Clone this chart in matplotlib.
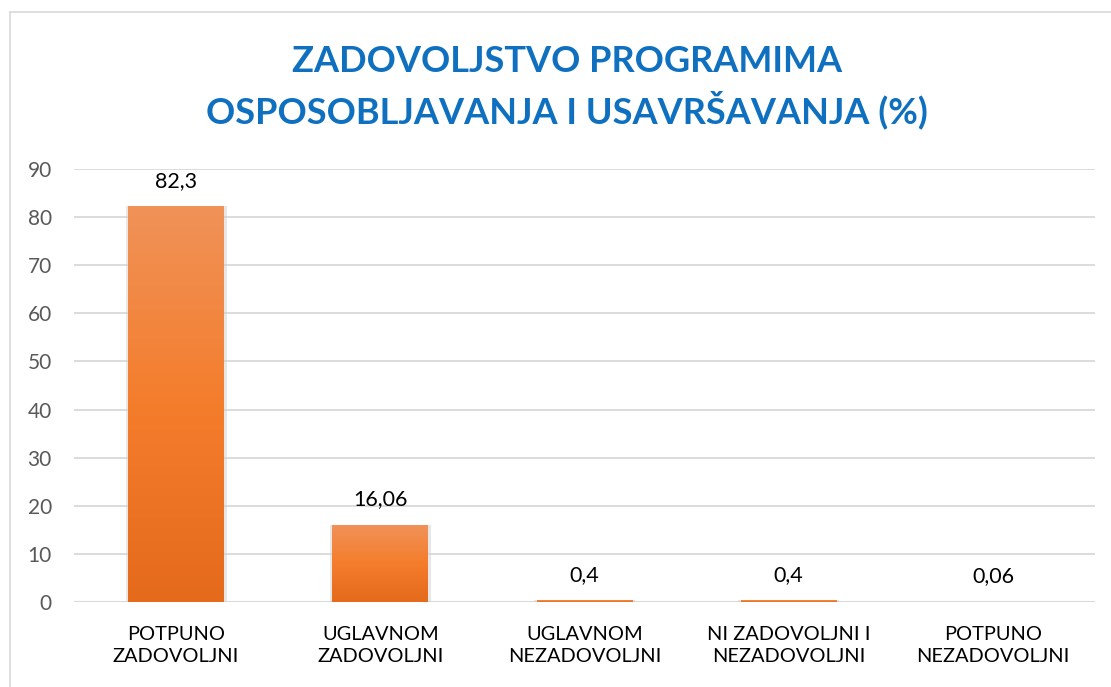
import numpy as np
import matplotlib.pyplot as plt
from matplotlib.colors import LinearSegmentedColormap
from matplotlib.lines import Line2D

categories = ["POTPUNO\nZADOVOLJNI", "UGLAVNOM\nZADOVOLJNI", "UGLAVNOM\nNEZADOVOLJNI",
              "NI ZADOVOLJNI I\nNEZADOVOLJNI", "POTPUNO\nNEZADOVOLJNI"]
values = [82.3, 16.06, 0.4, 0.4, 0.06]
value_labels = ["82,3", "16,06", "0,4", "0,4", "0,06"]
yticks = [0, 10, 20, 30, 40, 50, 60, 70, 80, 90]

plt.rcParams['font.family'] = ['Lato', 'DejaVu Sans']

fig = plt.figure(figsize=(11.11, 6.87), dpi=100)
ax = fig.add_axes([74 / 1111, 85 / 687, 1021 / 1111, 433 / 687])

# light gray frame around chart (only left/top visible in reference)
fig.add_artist(Line2D([10 / 1111, 10 / 1111], [0, 1 - 12 / 687], transform=fig.transFigure,
                      color='#d9d9d9', lw=1.2))
fig.add_artist(Line2D([10 / 1111, 1], [1 - 12 / 687, 1 - 12 / 687], transform=fig.transFigure,
                      color='#d9d9d9', lw=1.2))

cmap = LinearSegmentedColormap.from_list("og", ["#e56a1c", "#f47d2c", "#f09259"])
grad = np.linspace(0, 1, 256).reshape(-1, 1)

x = np.arange(len(categories))
w = 0.47
bars = ax.bar(x, values, width=w, color='#f47d2c', zorder=3, edgecolor='none')
for b, v in zip(bars, values):
    x0 = b.get_x()
    # soft shadow
    ax.bar(b.get_x() + w / 2, v, width=w + 0.025, color='#d0d0d0', alpha=0.5, zorder=2, edgecolor='none')
    im = ax.imshow(grad, extent=[x0, x0 + w, 0, v], origin='lower', cmap=cmap,
                   aspect='auto', zorder=3, interpolation='bicubic')
    im.set_clip_path(b)

for xi, v, lab in zip(x, values, value_labels):
    ax.text(xi, v + 3.2, lab, ha='center', va='bottom', fontsize=15.5, color='#000000')

ax.set_xlim(-0.5, len(categories) - 0.5)
ax.set_ylim(0, 90)
ax.set_yticks(yticks)
ax.set_xticks(x)
ax.set_xticklabels(categories, fontsize=14.4, color='#000000', linespacing=1.42)
ax.tick_params(axis='y', labelsize=15, labelcolor='#595959', length=0, pad=16)
ax.tick_params(axis='x', length=0, pad=17)
ax.grid(axis='y', color='#d9d9d9', lw=1.3, zorder=0)
for s in ax.spines.values():
    s.set_visible(False)
ax.axhline(0, color='#d9d9d9', lw=1.5, zorder=1)

fig.text(0.51, 1 - 62 / 687, "ZADOVOLJSTVO PROGRAMIMA", ha='center', va='center',
         fontsize=26, fontweight='bold', color='#1070c0')
fig.text(0.51, 1 - 110 / 687, "OSPOSOBLJAVANJA I USAVRŠAVANJA (%)", ha='center', va='center',
         fontsize=26, fontweight='bold', color='#1070c0')

fig.savefig("out.png", dpi=100)
